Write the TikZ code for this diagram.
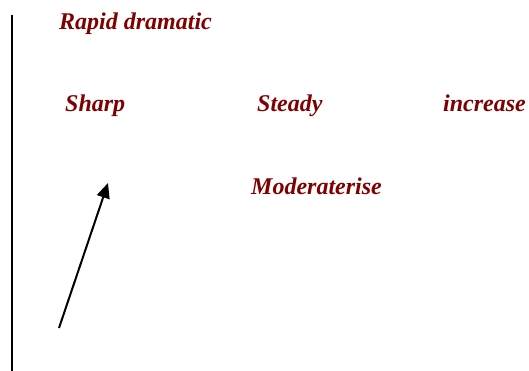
\documentclass[tikz,border=0pt]{standalone}
\usepackage{fontspec}
\setmainfont{Liberation Serif}
\usetikzlibrary{arrows.meta}
\definecolor{dred}{HTML}{800000}
\tikzset{lbl/.style={anchor=base west,inner sep=0pt,text=dred,font=\fontsize{24}{26}\selectfont\bfseries\itshape}}
\begin{document}
\begin{tikzpicture}[x=1pt,y=-1pt]
\useasboundingbox (0,0) rectangle (529,371);
\draw[line width=2pt] (12,15) -- (12,371);
\node[lbl] (t1) at (59,30) {Rapid dramatic};
\node[lbl] (t2) at (65,112) {Sharp};
\node[lbl] (t3) at (257,112) {Steady};
\node[lbl] (t4) at (443,112) {increase};
\node[lbl] (t5) at (251,194) {Moderaterise};
\coordinate (a0) at (59,328);
\coordinate (a1) at (108,183);
\draw[line width=2pt,-{Triangle[length=15pt,width=13pt]}] (a0) -- (a1);
\end{tikzpicture}
\end{document}
